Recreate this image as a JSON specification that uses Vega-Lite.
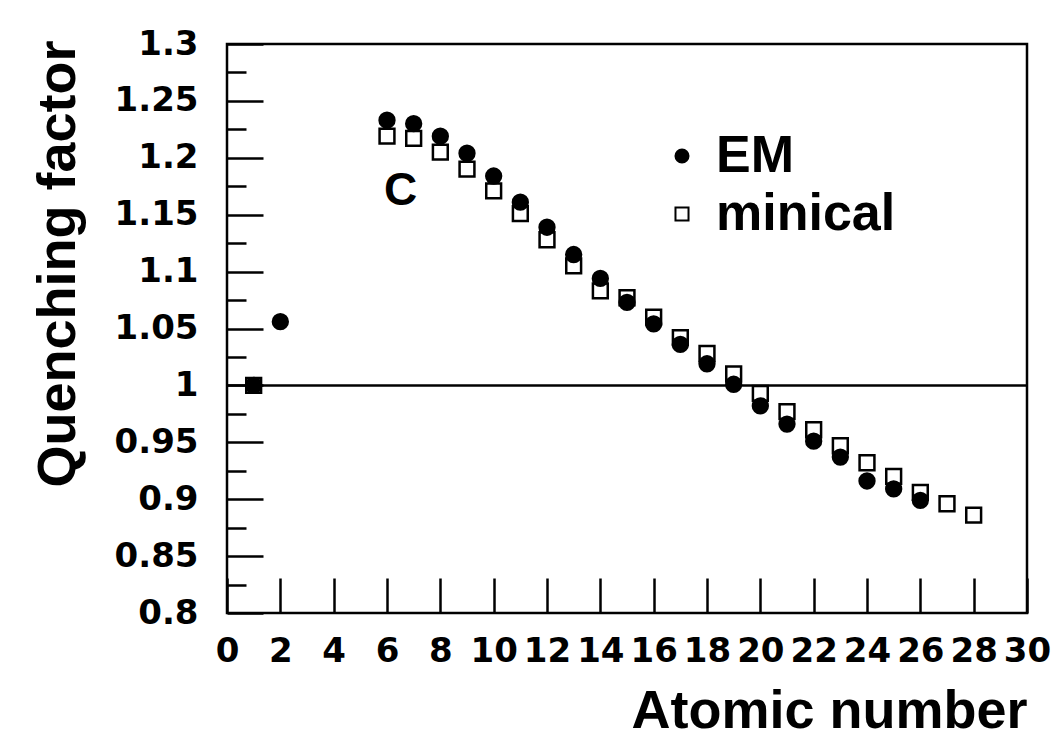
{
  "$schema": "https://vega.github.io/schema/vega-lite/v6.json",
  "width": 800,
  "height": 569,
  "autosize": {"type": "none"},
  "padding": {"left": 227, "top": 44, "right": 24, "bottom": 141},
  "background": "white",
  "config": {
    "view": {"stroke": "black", "strokeWidth": 2.5},
    "axis": {
      "domain": false,
      "grid": false,
      "tickColor": "black",
      "tickWidth": 2.5,
      "labelColor": "black",
      "titleColor": "black",
      "labelFont": "DejaVu Sans",
      "labelFontWeight": "bold",
      "labelFontSize": 34,
      "titleFont": "Liberation Sans",
      "titleFontWeight": "bold",
      "titleFontSize": 54
    }
  },
  "datasets": {
    "points": [
      {"Z": 1, "series": "minical", "value": 1.0},
      {"Z": 6, "series": "minical", "value": 1.219},
      {"Z": 7, "series": "minical", "value": 1.217},
      {"Z": 8, "series": "minical", "value": 1.205},
      {"Z": 9, "series": "minical", "value": 1.19},
      {"Z": 10, "series": "minical", "value": 1.171},
      {"Z": 11, "series": "minical", "value": 1.151},
      {"Z": 12, "series": "minical", "value": 1.128},
      {"Z": 13, "series": "minical", "value": 1.105},
      {"Z": 14, "series": "minical", "value": 1.083},
      {"Z": 15, "series": "minical", "value": 1.077},
      {"Z": 16, "series": "minical", "value": 1.06},
      {"Z": 17, "series": "minical", "value": 1.042},
      {"Z": 18, "series": "minical", "value": 1.028},
      {"Z": 19, "series": "minical", "value": 1.01},
      {"Z": 20, "series": "minical", "value": 0.993},
      {"Z": 21, "series": "minical", "value": 0.977},
      {"Z": 22, "series": "minical", "value": 0.961},
      {"Z": 23, "series": "minical", "value": 0.947},
      {"Z": 24, "series": "minical", "value": 0.932},
      {"Z": 25, "series": "minical", "value": 0.92},
      {"Z": 26, "series": "minical", "value": 0.906},
      {"Z": 27, "series": "minical", "value": 0.896},
      {"Z": 28, "series": "minical", "value": 0.886},
      {"Z": 1, "series": "EM", "value": 1.0},
      {"Z": 2, "series": "EM", "value": 1.056},
      {"Z": 6, "series": "EM", "value": 1.233},
      {"Z": 7, "series": "EM", "value": 1.23},
      {"Z": 8, "series": "EM", "value": 1.219},
      {"Z": 9, "series": "EM", "value": 1.204},
      {"Z": 10, "series": "EM", "value": 1.184},
      {"Z": 11, "series": "EM", "value": 1.161},
      {"Z": 12, "series": "EM", "value": 1.139},
      {"Z": 13, "series": "EM", "value": 1.115},
      {"Z": 14, "series": "EM", "value": 1.094},
      {"Z": 15, "series": "EM", "value": 1.073},
      {"Z": 16, "series": "EM", "value": 1.054},
      {"Z": 17, "series": "EM", "value": 1.036},
      {"Z": 18, "series": "EM", "value": 1.019},
      {"Z": 19, "series": "EM", "value": 1.001},
      {"Z": 20, "series": "EM", "value": 0.982},
      {"Z": 21, "series": "EM", "value": 0.966},
      {"Z": 22, "series": "EM", "value": 0.951},
      {"Z": 23, "series": "EM", "value": 0.937},
      {"Z": 24, "series": "EM", "value": 0.916},
      {"Z": 25, "series": "EM", "value": 0.909},
      {"Z": 26, "series": "EM", "value": 0.899}
    ]
  },
  "layer": [
    {
      "data": {"values": [{}]},
      "mark": {"type": "rule", "stroke": "black", "strokeWidth": 2.5},
      "encoding": {
        "y": {
          "datum": 1,
          "type": "quantitative",
          "scale": {"domain": [0.8, 1.3], "nice": false, "zero": false},
          "axis": {
            "orient": "left",
            "values": [0.825, 0.875, 0.925, 0.975, 1.025, 1.075, 1.125, 1.175, 1.225, 1.275],
            "tickSize": -19,
            "labels": false,
            "domain": false,
            "title": null
          }
        }
      }
    },
    {
      "data": {"name": "points"},
      "mark": {"type": "point", "filled": true, "stroke": "black", "strokeWidth": 2.5, "size": 220, "opacity": 1},
      "encoding": {
        "x": {
          "field": "Z",
          "type": "quantitative",
          "scale": {"domain": [0, 30], "nice": false, "zero": false},
          "axis": {
            "values": [0, 2, 4, 6, 8, 10, 12, 14, 16, 18, 20, 22, 24, 26, 28, 30],
            "tickSize": -35,
            "labelPadding": 56,
            "labelOverlap": false,
            "labelFlush": false,
            "title": "Atomic number",
            "titleAnchor": "end",
            "titleAlign": "right",
            "titleX": 800,
            "titleY": 114,
            "titleBaseline": "alphabetic"
          }
        },
        "y": {
          "field": "value",
          "type": "quantitative",
          "axis": {
            "orient": "left",
            "values": [0.8, 0.85, 0.9, 0.95, 1, 1.05, 1.1, 1.15, 1.2, 1.25, 1.3],
            "format": "~g",
            "tickSize": -36,
            "labelPadding": 65,
            "labelOverlap": false,
            "labelFlush": false,
            "title": "Quenching factor",
            "titleAngle": -90,
            "titleAlign": "right",
            "titleAnchor": "end",
            "titleBaseline": "alphabetic",
            "titleX": -153,
            "titleY": -4
          }
        },
        "shape": {
          "field": "series",
          "type": "nominal",
          "scale": {"domain": ["EM", "minical"], "range": ["circle", "square"]},
          "legend": {
            "orient": "none",
            "legendX": 429,
            "legendY": 86,
            "title": null,
            "padding": 0,
            "labelFont": "Liberation Sans",
            "labelFontWeight": "bold",
            "labelFontSize": 52,
            "labelColor": "black",
            "labelLimit": 500,
            "symbolSize": 170,
            "symbolOpacity": 1,
            "labelOffset": 8,
            "rowPadding": 6,
            "symbolStrokeColor": "black",
            "symbolStrokeWidth": 2,
            "encode": {"symbols": {"update": {"stroke": {"value": "black"}, "strokeWidth": {"value": 2}}}}
          }
        },
        "fill": {
          "field": "series",
          "type": "nominal",
          "scale": {"domain": ["EM", "minical"], "range": ["black", "white"]},
          "legend": {
            "orient": "none",
            "legendX": 429,
            "legendY": 86,
            "title": null,
            "padding": 0,
            "labelFont": "Liberation Sans",
            "labelFontWeight": "bold",
            "labelFontSize": 52,
            "labelColor": "black",
            "labelLimit": 500,
            "symbolSize": 170,
            "symbolOpacity": 1,
            "labelOffset": 8,
            "rowPadding": 6,
            "symbolStrokeColor": "black",
            "symbolStrokeWidth": 2,
            "encode": {"symbols": {"update": {"stroke": {"value": "black"}, "strokeWidth": {"value": 2}}}}
          }
        }
      }
    },
    {
      "data": {"values": [{}]},
      "mark": {"type": "text", "font": "Liberation Sans", "fontWeight": "bold", "fontSize": 46, "align": "center", "baseline": "middle", "color": "black"},
      "encoding": {
        "x": {"datum": 6.51, "type": "quantitative"},
        "y": {"datum": 1.171, "type": "quantitative", "axis": null},
        "text": {"value": "C"}
      }
    }
  ],
  "resolve": {"axis": {"y": "independent"}}
}
